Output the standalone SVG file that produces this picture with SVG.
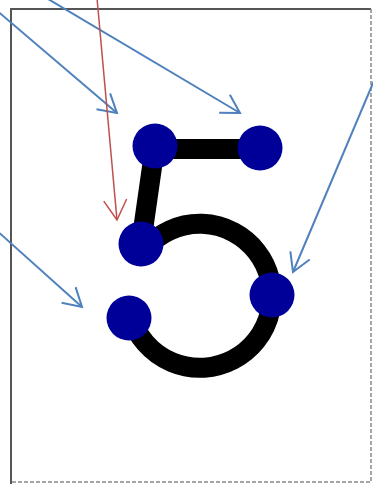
<svg xmlns="http://www.w3.org/2000/svg" width="373" height="487" viewBox="0 0 373 487">
<style>
.frame{stroke:#555;stroke-width:2;fill:none}
.dash{stroke:#888;stroke-width:1.5;stroke-dasharray:4 2;fill:none}
.stroke5{stroke:#000;stroke-width:20;fill:none}
.dot{fill:#000099}
.blue{stroke:#4f81bd;stroke-width:2;fill:none;marker-end:url(#ab)}
.red{stroke:#c0504d;stroke-width:1.5;fill:none;marker-end:url(#ar)}
</style>
<defs>
<marker id="ab" markerUnits="userSpaceOnUse" markerWidth="30" markerHeight="30" viewBox="-25 -15 30 30" refX="0" refY="0" orient="auto">
<path d="M-18,-10.5 L0,0 L-18,10.5" fill="none" stroke="#4f81bd" stroke-width="2"/>
</marker>
<marker id="ar" markerUnits="userSpaceOnUse" markerWidth="30" markerHeight="30" viewBox="-25 -15 30 30" refX="0" refY="0" orient="auto">
<path d="M-20,-11.5 L0,0 L-20,11.5" fill="none" stroke="#c0504d" stroke-width="1.5"/>
</marker>
</defs>
<rect x="0" y="0" width="373" height="487" fill="#fff"/>
<g id="frame">
<path class="frame" d="M11,484 L11,9 L371,9"/>
<path class="dash" d="M371,9 L371,482 L11,482"/>
</g>
<g id="glyph">
<path class="stroke5" d="M155,149 L260,149"/>
<path class="stroke5" d="M155,146 L141,244"/>
<path class="stroke5" d="M146,248 A72 72 0 1 1 131,317"/>
</g>
<g id="n1"><circle class="dot" cx="155" cy="146" r="22.5"/></g>
<g id="n2"><circle class="dot" cx="260" cy="148" r="22.5"/></g>
<g id="n3"><circle class="dot" cx="141" cy="244" r="22.5"/></g>
<g id="n4"><circle class="dot" cx="272" cy="295" r="22.5"/></g>
<g id="n5"><circle class="dot" cx="129" cy="318" r="22.5"/></g>
<g id="connectors">
<path class="blue" d="M-5,9 L117,113"/>
<path class="blue" d="M43,-4 L240,113"/>
<path class="red" d="M97,-2 L117,220"/>
<path class="blue" d="M-5,229 L82,307"/>
<path class="blue" d="M376,76 L293,272"/>
</g>
</svg>
